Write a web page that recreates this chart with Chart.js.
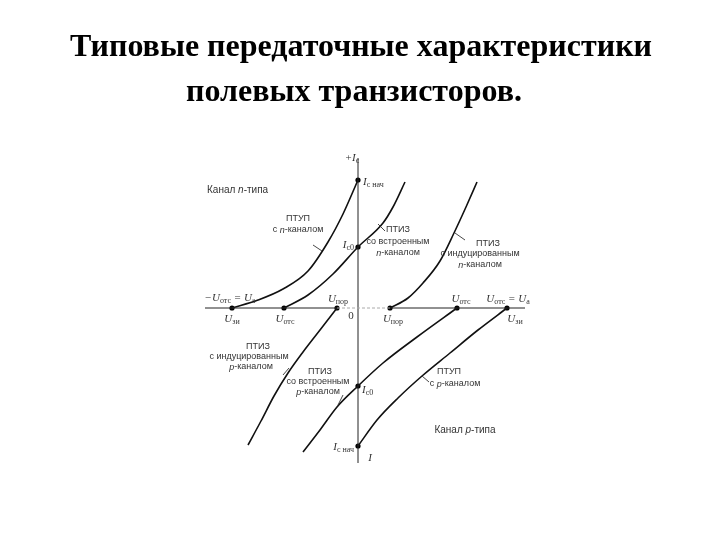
<!DOCTYPE html>
<html>
<head>
<meta charset="utf-8">
<script src="https://cdn.jsdelivr.net/npm/chart.js@4.4.0/dist/chart.umd.min.js"></script>
<style>
  html, body { margin: 0; padding: 0; background: #fff; }
</style>
</head>
<body>
<canvas id="chart" width="720" height="540"></canvas>
<script>
// U_зи along x, I_с along y (relative units, origin at the axes crossing)
const ptupN_U = [-126, -100, -75, -50, -30, -15, 0];
const ptupN_I = [0, 8, 19, 37, 66, 94, 128];

const ptizBuiltN_U = [-74, -50, -25, 0, 25, 35, 47];
const ptizBuiltN_I = [0, 13, 34, 61, 85, 101, 126];

const ptizIndN_U = [32, 50, 65, 82, 96, 108, 119];
const ptizIndN_I = [0, 10, 25, 47, 75, 101, 126];

const ptizIndP_U = [-110, -97, -84, -70, -55, -38, -21];
const ptizIndP_I = [-137, -113, -88, -65, -44, -22, 0];

const ptizBuiltP_U = [-55, -38, -21, 0, 25, 59, 99];
const ptizBuiltP_I = [-144, -122, -99, -78, -55, -29, 0];

const ptupP_U = [0, 19, 40, 64, 92, 120, 149];
const ptupP_I = [-138, -112, -90, -68, -45, -22, 0];

// marked points: U_отс, U_пор, I_с0, I_с нач
const dotU = [-126, 0, -74, 0, 32, -21, 99, 0, 149, 0];
const dotI = [0, 128, 0, 61, 0, 0, 0, -78, 0, -138];

// axes extent
const axisU = [-153, -21, 32, 167];
const axisI = [-155, 150];

const titleLines = ['Типовые передаточные характеристики', 'полевых транзисторов.'];

const xy = (us, is) => us.map((u, k) => ({ x: u, y: is[k] }));

// annotations (anchored in data units)
const notes = [
  { t: 'Канал *n*-типа', u: -151, i: 118, a: 'left', s: 10 },
  { t: 'ПТУП', u: -60, i: 89 },
  { t: 'с *n*-каналом', u: -60, i: 78 },
  { t: 'ПТИЗ', u: 40, i: 78 },
  { t: 'со встроенным', u: 40, i: 66 },
  { t: '*n*-каналом', u: 40, i: 55 },
  { t: 'ПТИЗ', u: 130, i: 64 },
  { t: 'с индуцированным', u: 122, i: 54 },
  { t: '*n*-каналом', u: 122, i: 43 },
  { t: 'ПТИЗ', u: -100, i: -39 },
  { t: 'с индуцированным', u: -109, i: -49 },
  { t: '*p*-каналом', u: -107, i: -59 },
  { t: 'ПТИЗ', u: -38, i: -64 },
  { t: 'со встроенным', u: -40, i: -74 },
  { t: '*p*-каналом', u: -40, i: -84 },
  { t: 'ПТУП', u: 91, i: -64 },
  { t: 'с *p*-каналом', u: 97, i: -76 },
  { t: 'Канал *p*-типа', u: 107, i: -122, s: 10 },
  { t: '*+I*_{с}', u: -6, i: 150, m: 1 },
  { t: '*I*_{с нач}', u: 5, i: 126, a: 'left', m: 1 },
  { t: '*I*_{с0}', u: -4, i: 63, a: 'right', m: 1 },
  { t: '*−U*_{отс}* = U*_{а}', u: -128, i: 10, m: 1 },
  { t: '*U*_{зи}', u: -126, i: -11, m: 1 },
  { t: '*U*_{отс}', u: -73, i: -11, m: 1 },
  { t: '*U*_{пор}', u: -20, i: 9, m: 1 },
  { t: '0', u: -7, i: -8, m: 1 },
  { t: '*U*_{пор}', u: 35, i: -11, m: 1 },
  { t: '*U*_{отс}', u: 103, i: 9, m: 1 },
  { t: '*U*_{отс}* = U*_{а}', u: 150, i: 9, m: 1 },
  { t: '*U*_{зи}', u: 157, i: -11, m: 1 },
  { t: '*I*_{с0}', u: 4, i: -82, a: 'left', m: 1 },
  { t: '*I*_{с нач}', u: -4, i: -139, a: 'right', m: 1 },
  { t: '*I*', u: 12, i: -150, m: 1 }
];
const leaders = [
  [-45, 63, -36, 57], [20, 84, 27, 77], [97, 75, 107, 68],
  [-69, -60, -75, -67], [-15, -87, -20, -97], [64, -68, 71, -74]
];

function parseRich(str) {
  const segs = [];
  let italic = false, buf = '', k = 0;
  const push = () => { if (buf) segs.push({ t: buf, sub: false, italic }); buf = ''; };
  while (k < str.length) {
    const c = str[k];
    if (c === '*') { push(); italic = !italic; k++; }
    else if (c === '_' && str[k + 1] === '{') {
      push();
      const j = str.indexOf('}', k);
      segs.push({ t: str.slice(k + 2, j), sub: true, italic });
      k = j + 1;
    } else { buf += c; k++; }
  }
  push();
  return segs;
}

// big two-line heading, centred on the page (built-in title would be squeezed to the plot width)
const headingPlugin = {
  id: 'heading',
  afterDraw(chart) {
    const { ctx } = chart;
    ctx.save();
    ctx.fillStyle = '#000';
    ctx.textAlign = 'center';
    ctx.textBaseline = 'middle';
    ctx.font = 'bold 32px "Liberation Serif", "Times New Roman", serif';
    ctx.fillText(titleLines[0], 361, 48);
    ctx.fillText(titleLines[1], 354, 93);
    ctx.restore();
  }
};

const notesPlugin = {
  id: 'notes',
  afterDatasetsDraw(chart) {
    const { ctx, scales } = chart;
    const sx = scales.x, sy = scales.y;
    ctx.save();
    ctx.strokeStyle = '#333';
    ctx.lineWidth = 0.9;
    leaders.forEach(l => {
      ctx.beginPath();
      ctx.moveTo(sx.getPixelForValue(l[0]), sy.getPixelForValue(l[1]));
      ctx.lineTo(sx.getPixelForValue(l[2]), sy.getPixelForValue(l[3]));
      ctx.stroke();
    });
    ctx.fillStyle = '#333';
    ctx.textBaseline = 'middle';
    notes.forEach(n => {
      const size = n.s || (n.m ? 11 : 9);
      const fam = n.m ? '"Liberation Serif", serif' : '"Liberation Sans", Arial, sans-serif';
      const segs = parseRich(n.t);
      const fontOf = sg => (sg.italic ? 'italic ' : '') + (sg.sub ? Math.round(size * 0.7) : size) + 'px ' + fam;
      let w = 0;
      segs.forEach(sg => { ctx.font = fontOf(sg); sg.w = ctx.measureText(sg.t).width; w += sg.w; });
      let x = sx.getPixelForValue(n.u);
      const y = sy.getPixelForValue(n.i);
      if (!n.a || n.a === 'center') x -= w / 2;
      else if (n.a === 'right') x -= w;
      ctx.textAlign = 'left';
      segs.forEach(sg => {
        ctx.font = fontOf(sg);
        ctx.fillText(sg.t, x, sg.sub ? y + size * 0.3 : y);
        x += sg.w;
      });
    });
    ctx.restore();
  }
};

const curve = (us, is) => ({
  type: 'line',
  data: xy(us, is),
  borderColor: '#111',
  borderWidth: 1.6,
  pointRadius: 0,
  cubicInterpolationMode: 'monotone',
  fill: false
});

const ctx = document.getElementById('chart').getContext('2d');
const chart = new Chart(ctx, {
  type: 'line',
  data: {
    datasets: [
      { data: xy(axisU.slice(0, 2), [0, 0]), borderColor: '#222', borderWidth: 1, pointRadius: 0 },
      { data: xy(axisU.slice(1, 3), [0, 0]), borderColor: '#aaa', borderWidth: 1, borderDash: [3, 2], pointRadius: 0 },
      { data: xy(axisU.slice(2, 4), [0, 0]), borderColor: '#222', borderWidth: 1, pointRadius: 0 },
      { data: xy([0, 0], axisI), borderColor: '#222', borderWidth: 1, pointRadius: 0 },
      curve(ptupN_U, ptupN_I),
      curve(ptizBuiltN_U, ptizBuiltN_I),
      curve(ptizIndN_U, ptizIndN_I),
      curve(ptizIndP_U, ptizIndP_I),
      curve(ptizBuiltP_U, ptizBuiltP_I),
      curve(ptupP_U, ptupP_I),
      {
        type: 'scatter',
        data: xy(dotU, dotI),
        pointRadius: 2.6,
        pointBackgroundColor: '#000',
        pointBorderWidth: 0
      }
    ]
  },
  options: {
    responsive: false,
    animation: false,
    layout: { padding: { left: 198, right: 192, top: 148, bottom: 72 } },
    scales: {
      x: { type: 'linear', min: -160, max: 170, display: false },
      y: { type: 'linear', min: -160, max: 160, display: false }
    },
    plugins: {
      legend: { display: false },
      tooltip: { enabled: false },
      title: { display: false }
    }
  },
  plugins: [notesPlugin, headingPlugin]
});
</script>
</body>
</html>
